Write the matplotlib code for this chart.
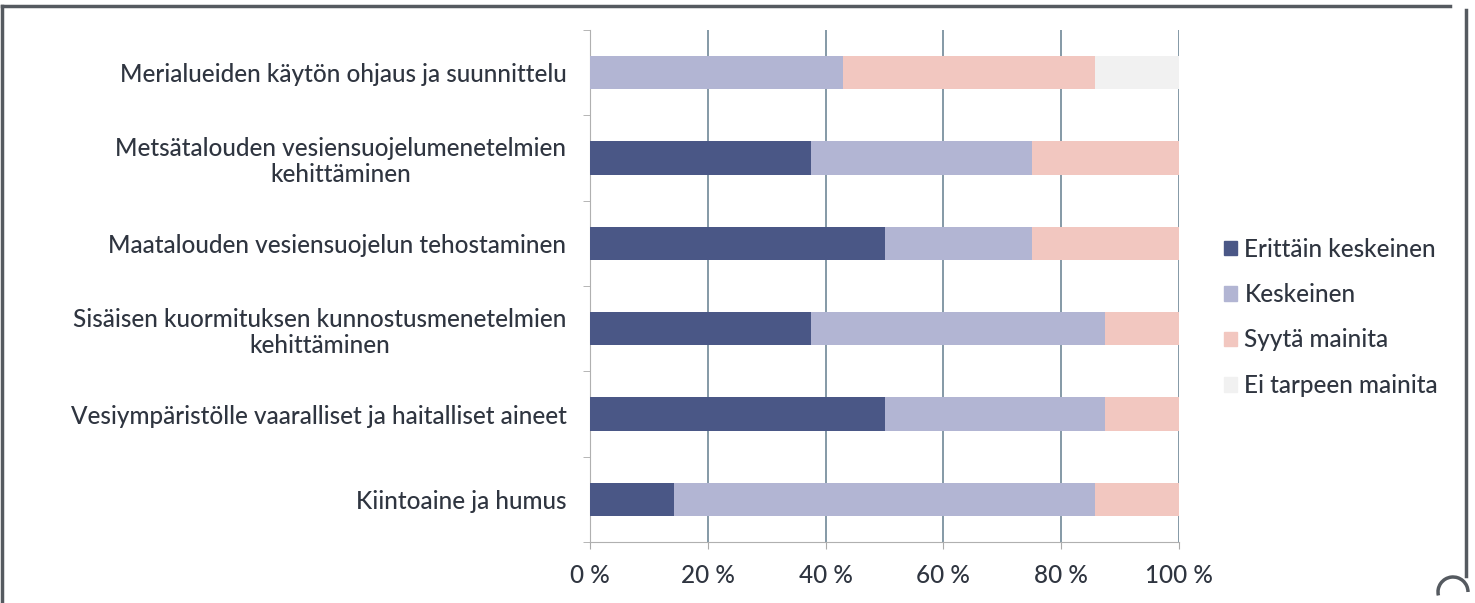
import matplotlib
matplotlib.use("Agg")
import matplotlib.pyplot as plt
from matplotlib.patches import Rectangle, Arc
from matplotlib.lines import Line2D
import numpy as np

plt.rcParams['font.family'] = ['Lato', 'DejaVu Sans']

categories = [
    "Merialueiden käytön ohjaus ja suunnittelu",
    "Metsätalouden vesiensuojelumenetelmien\nkehittäminen",
    "Maatalouden vesiensuojelun tehostaminen",
    "Sisäisen kuormituksen kunnostusmenetelmien\nkehittäminen",
    "Vesiympäristölle vaaralliset ja haitalliset aineet",
    "Kiintoaine ja humus",
]
series_names = ["Erittäin keskeinen", "Keskeinen", "Syytä mainita", "Ei tarpeen mainita"]
erittain = [0.0, 37.5, 50.0, 37.5, 50.0, 14.3]
keskeinen = [42.9, 37.5, 25.0, 50.0, 37.5, 71.4]
syyta = [42.9, 25.0, 25.0, 12.5, 12.5, 14.3]
ei_tarpeen = [14.2, 0.0, 0.0, 0.0, 0.0, 0.0]
xticklabels = ["0 %", "20 %", "40 %", "60 %", "80 %", "100 %"]

colors = ["#4a5786", "#b2b5d3", "#f2c7c0", "#f1f1f1"]
text_color = "#2f3540"

W, H = 1475, 603
fig = plt.figure(figsize=(W / 100, H / 100), dpi=100)
ax = fig.add_axes([590 / W, 1 - 542 / H, (1179 - 590) / W, (542 - 30) / H])

y = np.arange(len(categories))
left = np.zeros(len(categories))
for vals, col, name in zip([erittain, keskeinen, syyta, ei_tarpeen], colors, series_names):
    ax.barh(y, vals, left=left, height=0.39, color=col, label=name, zorder=3)
    left += np.array(vals)

ax.set_ylim(len(categories) - 0.5, -0.5)
ax.set_xlim(0, 100)
ax.set_xticks([0, 20, 40, 60, 80, 100])
ax.set_xticklabels(xticklabels, fontsize=17.5, color=text_color, fontweight='medium')
ax.set_yticks(y)
ax.set_yticklabels(categories, fontsize=17.5, color=text_color, ha='right',
                   multialignment='center', linespacing=1.15, fontweight='medium')
ax.set_yticks(np.arange(-0.5, len(categories), 1), minor=True)
ax.tick_params(axis='y', which='major', length=0, pad=17)
ax.tick_params(axis='y', which='minor', length=5, color="#aaaaaa")
ax.tick_params(axis='x', length=5, color="#aaaaaa", pad=11)
ax.grid(axis='x', color="#6f8797", linewidth=1.2, zorder=0)
for s in ['top', 'right']:
    ax.spines[s].set_visible(False)
for s in ['left', 'bottom']:
    ax.spines[s].set_color("#b0b0b0")

handles = [Rectangle((0, 0), 1, 1, color=c) for c in colors]
leg = fig.legend(handles, series_names, loc='upper left', bbox_to_anchor=(1214 / W, 1 - 228 / H),
                 frameon=False, handlelength=0.55, handleheight=0.55,
                 handletextpad=0.3, labelspacing=0.92, borderaxespad=0,
                 prop={'size': 17.5, 'weight': 'medium'})
for t in leg.get_texts():
    t.set_color(text_color)

# outer frame
fc = "#555a60"
fig.add_artist(Line2D([2 / W, 1450 / W], [1 - 6 / H, 1 - 6 / H], color=fc, lw=2.5))
fig.add_artist(Line2D([2 / W, 2 / W], [1 - 6 / H, 0], color=fc, lw=2.5))
fig.add_artist(Line2D([1466 / W, 1466 / W], [1 - 10 / H, 1 - 576 / H], color=fc, lw=2.5))
fig.add_artist(Arc((1453 / W, 1 - 592 / H), 30 / W, 30 / H, theta1=0, theta2=210,
                   color=fc, lw=2.5, transform=fig.transFigure))

fig.savefig("out.png", dpi=100)
